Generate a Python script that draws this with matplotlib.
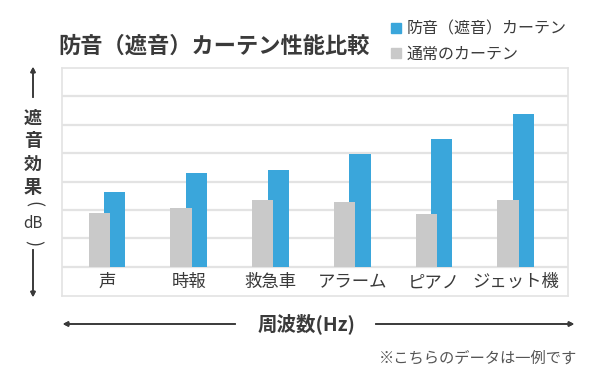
import numpy as np
import matplotlib.pyplot as plt
from matplotlib.patches import Patch

plt.rcParams['font.family'] = ['Noto Sans CJK JP', 'DejaVu Sans']

# データ（目盛り1つ = 10）
categories = ['声', '時報', '救急車', 'アラーム', 'ピアノ', 'ジェット機']
soundproof = [26.5, 33.0, 34.0, 39.7, 45.0, 53.7]
normal = [19.0, 20.7, 23.4, 22.8, 18.7, 23.4]
series_names = ['防音（遮音）カーテン', '通常のカーテン']

blue = '#3AA6DB'
grey = '#C9C9C9'
txt = '#3a3a3a'

W, H = 597, 387
fig = plt.figure(figsize=(W / 100, H / 100), dpi=100)
ax = fig.add_axes([62 / W, 1 - 296 / H, 506 / W, (296 - 67.7) / H])

x = np.arange(len(categories))
w = 0.26
ax.bar(x + 0.095, soundproof, w, color=blue, zorder=2)
ax.bar(x - 0.095, normal, w, color=grey, zorder=3)

ax.set_xlim(-0.55, 5.64)
ax.set_ylim(-10.2, 70)
for yv in range(0, 70, 10):
    ax.axhline(yv, color='#e3e3e3', lw=1.6, zorder=1)
for s in ax.spines.values():
    s.set_color('#e3e3e3')
    s.set_linewidth(1.2)
ax.set_xticks([])
ax.set_yticks([])

for i, c in enumerate(categories):
    ax.text(i, -5.2, c, ha='center', va='center', fontsize=12.5, color=txt)

# タイトル
fig.text(58 / W, 1 - 46 / H, '防音（遮音）カーテン性能比較', fontsize=16,
         fontweight='bold', color=txt, va='center', ha='left')

# 凡例
handles = [Patch(color=blue), Patch(color=grey)]
fig.legend(handles, series_names, loc='upper left',
           bbox_to_anchor=(377 / W, 1 - 6 / H), frameon=False,
           fontsize=11.5, handlelength=0.6, handleheight=0.6,
           handletextpad=0.35, labelspacing=0.5, labelcolor=txt)

# 縦軸ラベル
arrow = dict(arrowstyle='-|>', color=txt, lw=1.2, mutation_scale=7)
fig.add_artist(plt.annotate('', xy=(33 / W, 1 - 64 / H), xytext=(33 / W, 1 - 100 / H),
                            xycoords='figure fraction', arrowprops=arrow))
fig.add_artist(plt.annotate('', xy=(33 / W, 1 - 300 / H), xytext=(33 / W, 1 - 247 / H),
                            xycoords='figure fraction', arrowprops=arrow))
for k, ch in enumerate('遮音効果'):
    fig.text(33 / W, 1 - (118 + k * 23) / H, ch, fontsize=13, fontweight='bold',
             color=txt, ha='center', va='center')
fig.text(33 / W, 1 - 204 / H, '(', fontsize=13, color=txt, ha='center', va='center',
         rotation=-90)
fig.text(33 / W, 1 - 224 / H, 'dB', fontsize=11, color=txt, ha='center', va='center')
fig.text(33 / W, 1 - 243 / H, ')', fontsize=13, color=txt, ha='center', va='center',
         rotation=-90)

# 横軸ラベル
harrow = dict(arrowstyle='-|>', color=txt, lw=1.2, mutation_scale=7)
fig.add_artist(plt.annotate('', xy=(60 / W, 1 - 324 / H), xytext=(238 / W, 1 - 324 / H),
                            xycoords='figure fraction', arrowprops=harrow))
fig.add_artist(plt.annotate('', xy=(577 / W, 1 - 324 / H), xytext=(373 / W, 1 - 324 / H),
                            xycoords='figure fraction', arrowprops=harrow))
fig.text(307 / W, 1 - 324 / H, '周波数(Hz)', fontsize=14, fontweight='bold',
         color=txt, ha='center', va='center')

fig.text(577 / W, 1 - 358 / H, '※こちらのデータは一例です', fontsize=11,
         color='#555555', ha='right', va='center')

fig.savefig('out.png', dpi=100)
plt.close()
